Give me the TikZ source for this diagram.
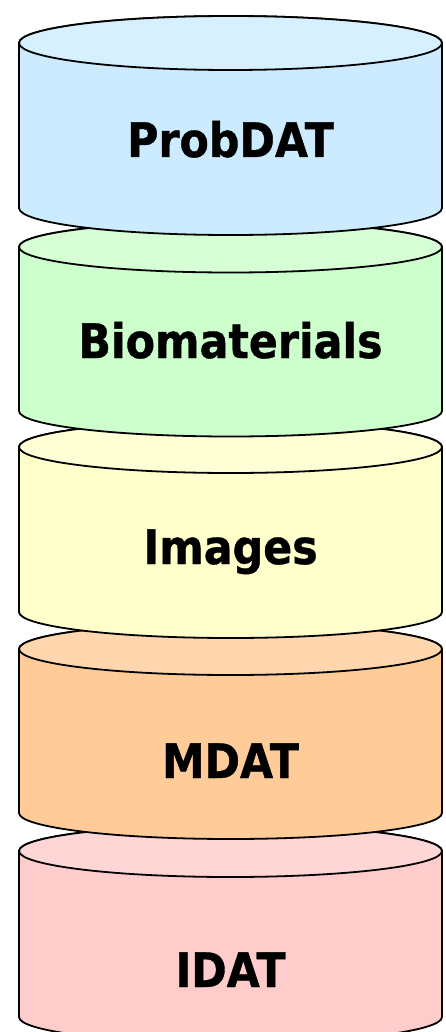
\documentclass[tikz,border=0pt]{standalone}
\usepackage{fontspec}
\newfontfamily\labfont{DejaVu Sans Bold}[FakeStretch=0.9,FakeBold=0.8]
\definecolor{cblue}{RGB}{204,235,255}
\definecolor{cbluet}{RGB}{214,240,255}
\definecolor{cgreen}{RGB}{204,255,204}
\definecolor{cgreent}{RGB}{214,255,214}
\definecolor{cyellow}{RGB}{255,255,204}
\definecolor{cyellowt}{RGB}{255,255,214}
\definecolor{corange}{RGB}{255,204,153}
\definecolor{coranget}{RGB}{255,214,173}
\definecolor{cpink}{RGB}{255,204,204}
\definecolor{cpinkt}{RGB}{255,214,214}
\newcommand\drawcyl[8]{%
  % #1 top cy, #2 bottom cy, #3 ry, #4 body col, #5 top col, #6 name, #7 text, #8 baseline
  \path[cylline,fill=#4] (19,-#1) -- (19,-#2)
     arc[start angle=180,end angle=360,x radius=211.5,y radius=#3]
     -- (442,-#1)
     arc[start angle=0,end angle=180,x radius=211.5,y radius=#3] -- cycle;
  \path[cylline,fill=#5] (230.5,-#1) ellipse[x radius=211.5,y radius=#3];
  \node[lab] (#6) at (230.5,-#8) {#7};
}
\begin{document}
\begin{tikzpicture}[x=1pt,y=1pt,
  cylline/.style={draw=black,line width=1.8pt,line join=round},
  lab/.style={anchor=base,inner sep=0pt,font=\labfont\fontsize{47.5}{50}\selectfont,text=black}]
\useasboundingbox (0,0) rectangle (446,-1032);
\fill[white] (0,0) rectangle (446,-1032);
\drawcyl{851}{1017}{26}{cpink}{cpinkt}{idat}{IDAT}{987}
\drawcyl{649}{813}{26}{corange}{coranget}{mdat}{MDAT}{778}
\drawcyl{447}{612}{26}{cyellow}{cyellowt}{images}{Images}{564}
\drawcyl{247}{411}{25.5}{cgreen}{cgreent}{bio}{Biomaterials}{358}
\drawcyl{43}{208}{27}{cblue}{cbluet}{prob}{ProbDAT}{157}
\end{tikzpicture}
\end{document}
